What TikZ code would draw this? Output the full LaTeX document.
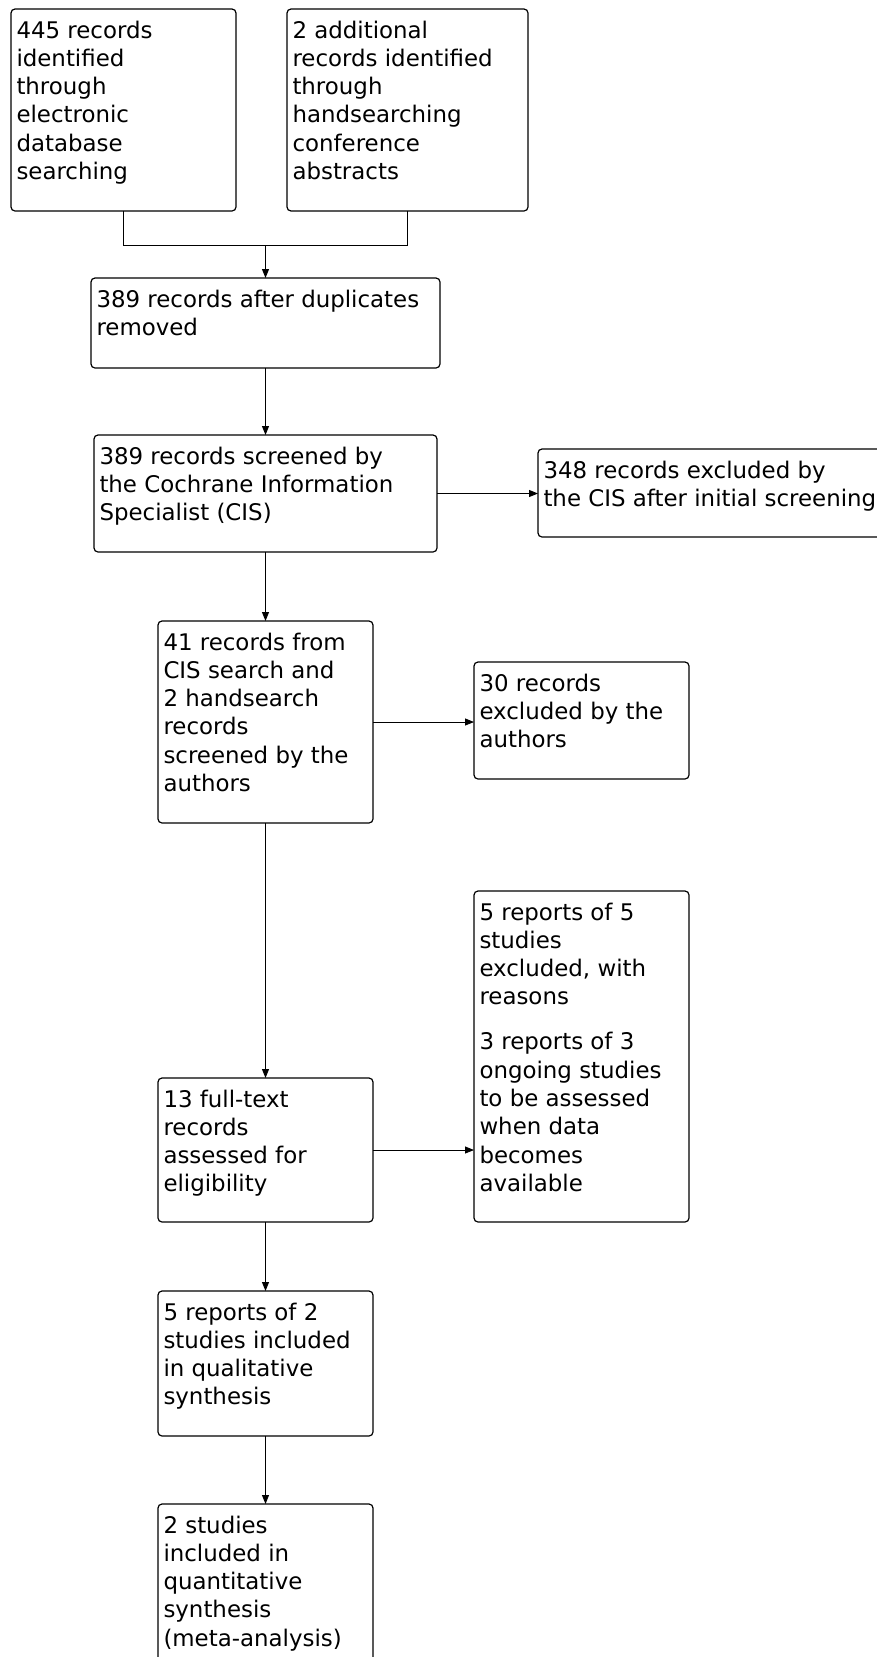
\documentclass[tikz,border=0pt]{standalone}
\usepackage{fontspec}
\setmainfont{DejaVu Sans}
\usetikzlibrary{arrows.meta}
\tikzset{
 boxshape/.style={draw=black, line width=1.2pt, rounded corners=4pt, inner sep=0pt, outer sep=0pt, rectangle},
 boxtext/.style={anchor=north west, inner sep=0pt, outer sep=0pt, align=left, font=\fontsize{22.9}{28.3}\selectfont},
 flow/.style={draw=black, line width=0.9pt, -{Triangle[length=9pt,width=7pt]}},
 link/.style={draw=black, line width=0.9pt},
}
\newcommand\flowbox[6]{%
 \node[boxshape, minimum width={#4-#2}, minimum height={#5-#3}] (#1) at ({(#2+#4)/2},{(#3+#5)/2}) {};
 \node[boxtext] (#1t) at ({#2+5.5},{#3+9.2}) {\strut #6};
}
\begin{document}
\begin{tikzpicture}[x=1pt,y=-1pt]
\useasboundingbox (0,0) rectangle (877,1657);
\fill[white] (0,0) rectangle (877,1657);
\clip (0,0) rectangle (877,1657);
\flowbox{b1}{11}{9}{236}{211}{445 records\\identified\\through\\electronic\\database\\searching}
\flowbox{b2}{287}{9}{528}{211}{2 additional\\records identified\\through\\handsearching\\conference\\abstracts}
\flowbox{b3}{91}{278}{440}{368}{389 records after duplicates\\removed}
\flowbox{b4}{94}{435}{437}{552}{389 records screened by\\the Cochrane Information\\Specialist (CIS)}
\flowbox{b5}{538}{449}{895}{537}{348 records excluded by\\the CIS after initial screening}
\flowbox{b6}{158}{621}{373}{823}{41 records from\\CIS search and\\2 handsearch\\records\\screened by the\\authors}
\flowbox{b7}{474}{662}{689}{779}{30 records\\excluded by the\\authors}
\flowbox{b8}{158}{1078}{373}{1222}{13 full-text\\records\\assessed for\\eligibility}
\flowbox{b9}{474}{891}{689}{1222}{5 reports of 5\\studies\\excluded, with\\reasons\\[16.7pt]3 reports of 3\\ongoing studies\\to be assessed\\when data\\becomes\\available}
\flowbox{b10}{158}{1291}{373}{1436}{5 reports of 2\\studies included\\in qualitative\\synthesis}
\flowbox{b11}{158}{1504}{373}{1700}{2 studies\\included in\\quantitative\\synthesis\\(meta-analysis)}
\coordinate (j) at (265.5,245);
\draw[link] (b1.south) |- (j);
\draw[link] (b2.south) |- (j);
\draw[flow] (j) -- (b3.north);
\draw[flow] (b3.south) -- (b4.north);
\draw[flow] (b4.east) -- (b4.east -| b5.west);
\draw[flow] (b4.south) -- (b6.north);
\draw[flow] (b6.east) -- (b6.east -| b7.west);
\draw[flow] (b6.south) -- (b8.north);
\draw[flow] (b8.east) -- (b8.east -| b9.west);
\draw[flow] (b8.south) -- (b10.north);
\draw[flow] (b10.south) -- (b11.north);
\end{tikzpicture}
\end{document}
